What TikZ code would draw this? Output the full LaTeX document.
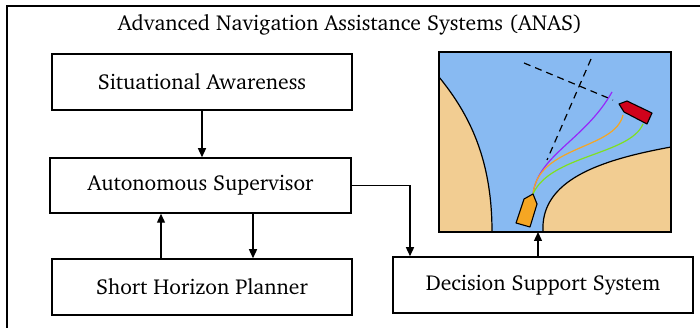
\documentclass[tikz,border=0pt]{standalone}
\usepackage[T1]{fontenc}
\usepackage{charter}
\usetikzlibrary{arrows.meta}

\definecolor{agua}{RGB}{136,186,242}
\definecolor{tierra}{RGB}{242,205,146}
\definecolor{naranja}{RGB}{245,166,35}
\definecolor{rojo}{RGB}{208,2,27}
\definecolor{morado}{RGB}{150,40,250}
\definecolor{verde}{RGB}{128,224,32}

\tikzset{
  bloque/.style={draw, line width=1.5pt, minimum width=300pt, minimum height=56pt,
    font=\fontsize{21.6pt}{25pt}\selectfont},
  flecha/.style={->, line width=1.3pt},
  >={Triangle[width=8pt,length=9pt]}
}

\begin{document}
\begin{tikzpicture}[x=1pt, y=-1pt]
        \useasboundingbox (0,0) rectangle (700,328);
        % Marco
        \draw[line width=1.5pt] (7,340) -- (7,6) -- (712,6);
        \node[font=\fontsize{21.6pt}{25pt}\selectfont] (titulo) at (350,25) {Advanced Navigation Assistance Systems (ANAS)};

        % Bloques
        \node[bloque] (sa) at (202,82) {Situational Awareness};
        \node[bloque, minimum width=301pt, minimum height=55pt] (as) at (200.5,185.5) {Autonomous Supervisor};
        \node[bloque] (shp) at (202,287) {Short Horizon Planner};
        \node[bloque] (dss) at (543,285) {Decision Support System};

        % Mapa
        \node[minimum width=232pt, minimum height=180pt, inner sep=0pt] (mapa) at (555,142) {};
        \begin{scope}
          \clip (mapa.south west) rectangle (mapa.north east);
          \fill[agua] (mapa.south west) rectangle (mapa.north east);
          \filldraw[fill=tierra, line width=1.2pt] (439,77) .. controls (470,115) and (492,160) .. (492,232) -- (430,240) -- (430,77) -- cycle;
          \filldraw[fill=tierra, line width=1.2pt] (543,232) .. controls (540,180) and (600,160) .. (671,147) -- (680,147) -- (680,240) -- cycle;
          % Rumbos
          \draw[line width=1.2pt, dash pattern=on 7pt off 5pt] (524,63) -- (613,100);
          \draw[line width=1.2pt, dash pattern=on 7pt off 5pt] (591,59) -- (547,160);
          % Trayectorias
          \draw[morado, line width=1.2pt] (533,194) .. controls (538,155) and (585,140) .. (612,92);
          \draw[naranja, line width=1.2pt] (533,194) .. controls (538,145) and (615,150) .. (623,115);
          \draw[verde, line width=1.2pt] (533,194) .. controls (550,155) and (630,155) .. (643,124);
          % Barcos
          \filldraw[fill=naranja, line width=1.1pt, line join=round] (533,194) -- (537,204) -- (530,227) -- (516,223) -- (524,199) -- cycle;
          \filldraw[fill=rojo, line width=1.1pt, line join=round] (619,104) -- (627,101) -- (652,113) -- (647,124) -- (624,112) -- cycle;
        \end{scope}
        \draw[line width=1.5pt] (mapa.south west) rectangle (mapa.north east);
        \coordinate (mapabajo) at (538,232);

        % Conexiones
        \draw[flecha] (sa.south) -- (sa.south |- as.north);
        \draw[flecha] ([xshift=-41pt]shp.north) -- ([xshift=-41pt]shp.north |- as.south);
        \draw[flecha] ([xshift=51pt]shp.north |- as.south) -- ([xshift=51pt]shp.north);
        \draw[flecha] (as.east) -| ([xshift=-133pt]dss.north);
        \draw[flecha] (dss.north -| mapabajo) -- (mapabajo);
    \end{tikzpicture}
\end{document}
